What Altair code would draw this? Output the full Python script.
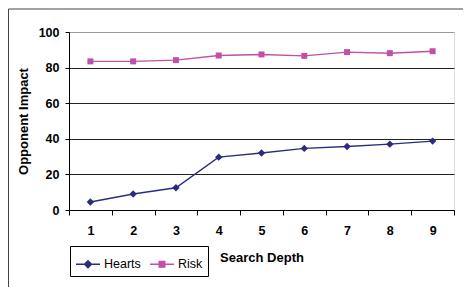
import altair as alt
import pandas as pd

depth = [1, 2, 3, 4, 5, 6, 7, 8, 9]
hearts = [4.5, 9.0, 12.5, 29.7, 32.0, 34.6, 35.7, 37.0, 38.7]
risk = [83.5, 83.5, 84.2, 86.8, 87.4, 86.6, 88.7, 88.1, 89.2]
series = ["Hearts", "Risk"]
colors = ["#2b2d7c", "#c050a8"]
y_ticks = [0, 20, 40, 60, 80, 100]

rows = []
for d, h, r in zip(depth, hearts, risk):
    rows.append({"depth": d, "series": "Hearts", "value": h})
    rows.append({"depth": d, "series": "Risk", "value": r})
df = pd.DataFrame(rows)

FONT = "Liberation Sans"

x_enc = alt.X(
    "depth:O",
    scale=alt.Scale(type="band", paddingInner=0, paddingOuter=0),
    bandPosition=0.5,
    axis=alt.Axis(
        title="Search Depth", labelAngle=0, tickBand="extent",
        domainColor="#000", tickColor="#000", tickSize=5,
        labelFont=FONT, labelFontSize=12.5, labelFontWeight="bold", labelColor="#000",
        labelPadding=9, titleFont=FONT, titleFontSize=13, titleFontWeight="bold",
        titleColor="#000", titlePadding=15,
    ),
)
y_enc = alt.Y(
    "value:Q",
    scale=alt.Scale(domain=[0, 100], nice=False),
    axis=alt.Axis(
        title="Opponent Impact", values=y_ticks, grid=True,
        gridColor=alt.condition("datum.value === 100", alt.value("#999999"), alt.value("#222222")),
        domainColor="#000", tickColor="#000", tickSize=4,
        labelFont=FONT, labelFontSize=12.5, labelFontWeight="bold", labelColor="#000",
        labelPadding=6, titleFont=FONT, titleFontSize=13, titleFontWeight="bold",
        titleColor="#000", titlePadding=8,
    ),
)

color_scale = alt.Scale(domain=series, range=colors)
legend_paths = [
    "M-1,0H1M0,-0.3L0.3,0L0,0.3L-0.3,0Z",
    "M-1,0H1M-0.24,-0.24H0.24V0.24H-0.24Z",
]

legend = alt.Legend(
    title=None, orient="none", legendX=1, legendY=214, direction="horizontal",
    strokeColor="#000", padding=5, labelFont=FONT, labelFontSize=12.5, labelColor="#000",
    symbolSize=576, symbolStrokeWidth=1.3, labelOffset=3, columnPadding=6,
    symbolOpacity=1,
)

base = alt.Chart(df)
lines = base.mark_line(strokeWidth=1.4).encode(
    x=x_enc, y=y_enc,
    color=alt.Color("series:N", scale=color_scale),
)
hearts_pts = base.transform_filter("datum.series === 'Hearts'").mark_point(
    filled=True, opacity=1, shape="diamond", size=55
).encode(x=x_enc, y=y_enc, color=alt.Color("series:N", scale=color_scale))
risk_pts = base.transform_filter("datum.series === 'Risk'").mark_point(
    filled=True, opacity=1, shape="square", size=36
).encode(x=x_enc, y=y_enc, color=alt.Color("series:N", scale=color_scale))

legend_layer = base.mark_point(filled=False, opacity=0, strokeWidth=1.3, size=576).encode(
    x=x_enc, y=y_enc,
    color=alt.Color("series:N", scale=color_scale, legend=legend),
    fill=alt.Fill("series:N", scale=color_scale, legend=legend),
    shape=alt.Shape("series:N", scale=alt.Scale(domain=series, range=legend_paths), legend=legend),
)

frame_data = alt.Data(values=[{"k": 1}])
frame_v = alt.Chart(frame_data).mark_rule(color="#444", strokeWidth=1).encode(
    x=alt.value(-60.5), y=alt.value(-23), y2=alt.value(300)
)
frame_h = alt.Chart(frame_data).mark_rule(color="#444", strokeWidth=1).encode(
    x=alt.value(-60.5), x2=alt.value(420), y=alt.value(-23)
)

chart = alt.layer(legend_layer, lines, hearts_pts, risk_pts, frame_v, frame_h).properties(
    width=385, height=178,
    autosize=alt.AutoSizeParams(type="none"),
    padding={"left": 61, "top": 24, "right": 9, "bottom": 77},
).configure_view(stroke="#999999", strokeWidth=1.2).configure(background="white")

chart.save("out.html", embed_options={"renderer": "svg", "actions": False})
